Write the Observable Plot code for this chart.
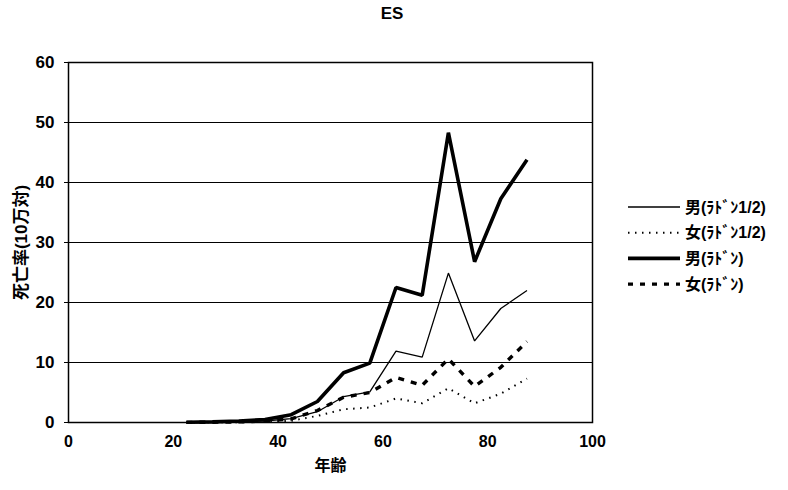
<!DOCTYPE html>
<html><head><meta charset="utf-8">
<script src="https://cdn.jsdelivr.net/npm/d3@7"></script>
<script src="https://cdn.jsdelivr.net/npm/@observablehq/plot@0.6"></script>
<style>
body{margin:0;background:#fff;}
#chart svg{font-family:"Liberation Sans","Noto Sans CJK JP",sans-serif;font-weight:bold;}
</style>
</head><body><div id="chart"></div>
<script>
const title = "ES";
const xLabel = "年齢";
const yLabel = "死亡率(10万対)";
const ages = [22.5, 27.5, 32.5, 37.5, 42.5, 47.5, 52.5, 57.5, 62.5, 67.5, 72.5, 77.5, 82.5, 87.5];
const maleHalf   = [0.03, 0.05, 0.12, 0.25, 0.65, 1.8, 4.3, 5.1, 11.9, 10.9, 24.9, 13.6, 19.0, 22.0];
const femaleHalf = [0.01, 0.03, 0.05, 0.12, 0.30, 1.1, 2.2, 2.5, 4.0, 3.2, 5.7, 3.2, 4.8, 7.3];
const maleFull   = [0.05, 0.10, 0.25, 0.50, 1.30, 3.5, 8.3, 9.9, 22.5, 21.2, 48.3, 26.8, 37.3, 43.8];
const femaleFull = [0.02, 0.05, 0.10, 0.25, 0.60, 2.0, 4.2, 5.0, 7.5, 6.2, 10.6, 6.0, 9.2, 13.5];
const seriesNames = ["男(ﾗﾄﾞﾝ1/2)", "女(ﾗﾄﾞﾝ1/2)", "男(ﾗﾄﾞﾝ)", "女(ﾗﾄﾞﾝ)"];
const xTicks = [0, 20, 40, 60, 80, 100];
const yTicks = [0, 10, 20, 30, 40, 50, 60];

const seriesValues = [maleHalf, femaleHalf, maleFull, femaleFull];
const styles = [
  {strokeWidth: 1.3, dash: null},
  {strokeWidth: 2, dash: "1.5,5.5"},
  {strokeWidth: 3.6, dash: null},
  {strokeWidth: 3.4, dash: "6,7"}
];
const rows = [];
seriesNames.forEach((name, i) => ages.forEach((a, j) => rows.push({series: name, age: a, value: seriesValues[i][j]})));

const lineMarks = seriesNames.map((name, i) => Plot.line(rows.filter(d => d.series === name), {
  x: "age", y: "value", stroke: "black", strokeWidth: styles[i].strokeWidth,
  strokeDasharray: styles[i].dash, strokeLinecap: "butt", strokeLinejoin: "miter"
}));

const chart = Plot.plot({
  width: 788, height: 490,
  marginLeft: 68, marginRight: 196, marginTop: 62, marginBottom: 68,
  style: {fontSize: "16px", background: "white", color: "black"},
  x: {domain: [0, 100]},
  y: {domain: [0, 60]},
  marks: [
    Plot.ruleY(yTicks.slice(1), {stroke: "black", strokeWidth: 1.2}),
    Plot.frame({stroke: "black", strokeWidth: 1.5}),
    Plot.axisX({ticks: xTicks, tickSize: 0, tickPadding: 13, label: xLabel, labelAnchor: "center", labelOffset: 48, labelArrow: "none", fontSize: 16}),
    Plot.axisY({ticks: yTicks, tickSize: 4, tickPadding: 10, label: yLabel, labelAnchor: "center", labelOffset: 54, labelArrow: "none", fontSize: 17}),
    ...lineMarks
  ]
});
document.getElementById("chart").appendChild(chart);

const svg = d3.select(chart);
svg.append("text").attr("x", 392).attr("y", 19).attr("text-anchor", "middle")
  .attr("font-size", 17).attr("font-weight", "bold").text(title);
const lg = svg.append("g");
seriesNames.forEach((name, i) => {
  const y = 207 + i * 25.7;
  lg.append("line").attr("x1", 628).attr("x2", 680).attr("y1", y).attr("y2", y)
    .attr("stroke", "black").attr("stroke-width", styles[i].strokeWidth)
    .attr("stroke-dasharray", i === 3 ? "5,7" : styles[i].dash);
  lg.append("text").attr("x", 685).attr("y", y).attr("dy", "0.35em")
    .attr("text-anchor", "start")
    .attr("font-size", 16).attr("font-weight", "bold").text(name);
});
</script></body></html>
